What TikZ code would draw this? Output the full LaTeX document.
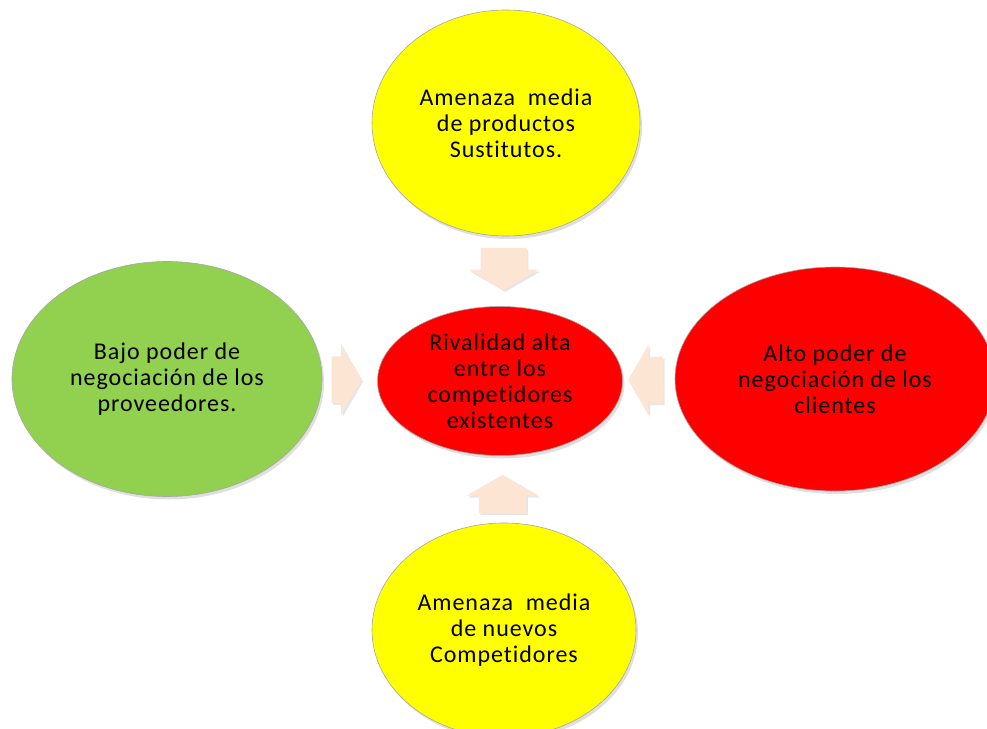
\documentclass[tikz,border=0pt]{standalone}
\usepackage{fontspec}
\setmainfont{Carlito}
\newfontfamily\forcefont[LetterSpace=4,Ligatures={NoCommon}]{Carlito}
\usetikzlibrary{shapes.geometric,shapes.arrows,shadows,calc}
\definecolor{peach}{RGB}{253,229,211}
\definecolor{leafgreen}{RGB}{146,208,80}
\definecolor{lemon}{RGB}{255,255,0}
\definecolor{scarlet}{RGB}{255,0,0}
\tikzstyle{force}=[ellipse,draw=black!35,line width=0.6pt,inner sep=0pt,align=center,
    font=\forcefont\fontsize{24}{26}\selectfont,
    drop shadow={opacity=0.25,shadow xshift=2pt,shadow yshift=-3pt}]
\tikzstyle{push}=[single arrow,fill=peach,draw=none,inner sep=0pt,inner ysep=23pt,
    single arrow head extend=12pt,single arrow tip angle=120,
    drop shadow={opacity=0.2,shadow xshift=1.5pt,shadow yshift=-2pt}]

\begin{document}
\begin{tikzpicture}[x=1pt,y=-1pt]
    \useasboundingbox (0,0) rectangle (987,728);

    % The five forces
    \foreach \pos/\name/\col/\w/\h/\txt in {
        {(506,123)/S/lemon/268/226/{Amenaza~ media\\de productos\\Sustitutos.}},
        {(500,381)/R/scarlet/245/149/{Rivalidad alta\\entre los\\competidores\\existentes}},
        {(167,379)/P/leafgreen/310/235/{Bajo poder de\\negociación de los\\proveedores.}},
        {(835,379)/C/scarlet/320/224/{Alto poder de\\negociación de los\\clientes}},
        {(504,630)/N/lemon/264/214/{Amenaza~ media\\de nuevos\\Competidores}}}
        \node[force,fill=\col,minimum width=\w pt,minimum height=\h pt] (\name) at \pos {\txt};

    % Block arrows pointing at the rivalry
    \node[push,rotate=-90,minimum height=42pt,minimum width=70pt]
        (sr) at ($(S.south)!0.37!(R.north)$) {};
    \node[push,rotate=90,minimum height=38pt,minimum width=72pt]
        (nr) at ($(N.north)!0.33!(R.south)$) {};
    \node[push,minimum height=30pt,minimum width=65pt]
        (pr) at ($(P.east)!0.32!(R.west)$) {};
    \node[push,rotate=180,minimum height=35pt,minimum width=68pt]
        (cr) at ($(C.west)!0.43!(R.east)$) {};
\end{tikzpicture}
\end{document}
